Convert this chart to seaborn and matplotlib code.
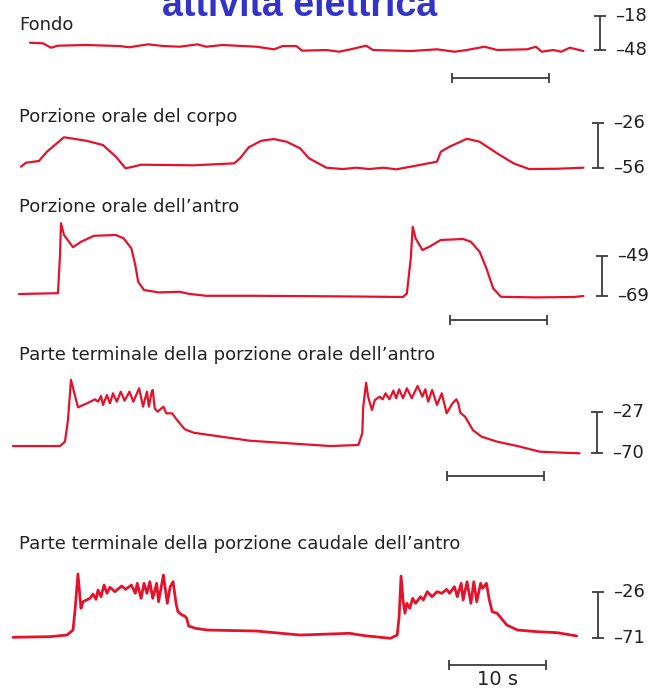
import matplotlib
matplotlib.use("Agg")
import matplotlib.pyplot as plt
import seaborn as sns

sns.set_theme(style="white")
plt.rcParams['font.family'] = ['DejaVu Sans']

# traces: time (s), potential (mV)
fondo_t = [1.55, 2.89, 3.71, 4.43, 7.32, 10.8, 11.75, 13.7, 15.3, 17.0, 18.8, 19.7, 21.4, 24.9, 26.7,
           27.6, 29.0, 29.6, 32.1, 33.4, 34.6, 36.2, 36.9, 40.8, 43.5, 45.3, 46.6, 48.4, 49.7, 52.8,
           53.7, 54.3, 55.5, 56.3, 57.2, 58.6]
fondo_mv = [-41.6, -42.1, -46.0, -44.2, -43.6, -44.5, -45.6, -43.0, -44.5, -45.1, -43.0, -45.1, -43.6, -45.1, -47.4,
            -44.5, -44.5, -48.6, -48.0, -49.5, -47.4, -44.2, -48.0, -48.9, -47.4, -49.5, -48.0, -45.1, -48.0, -47.4,
            -45.1, -49.5, -48.0, -49.5, -46.0, -48.9]

corpo_t = [0.62, 1.13, 2.47, 3.30, 5.05, 7.32, 9.07, 10.4, 11.4, 12.2, 13.0, 18.4, 22.6, 23.2, 24.1, 25.4,
           26.7, 28.0, 29.4, 30.3, 32.1, 33.8, 35.2, 36.5, 38.0, 39.3, 40.8, 43.5, 43.9, 44.8, 46.6, 47.9,
           49.7, 51.4, 53.0, 55.9, 58.6]
corpo_mv = [-55.1, -52.5, -51.3, -45.1, -35.5, -37.8, -40.7, -48.5, -56.2, -55.1, -53.8, -54.2, -52.9, -49.5, -42.2, -37.8,
            -36.7, -38.5, -42.9, -49.5, -55.8, -56.7, -55.8, -56.7, -55.8, -56.9, -55.1, -51.8, -45.1, -41.8, -36.5, -38.5,
            -46.2, -52.9, -56.7, -56.5, -55.8]

antro_t = [0.41, 4.43, 4.64, 4.74, 5.05, 5.98, 6.80, 8.14, 10.4, 11.2, 12.0, 12.4, 12.7, 13.3, 14.8, 17.0,
           17.9, 19.7, 24.9, 33.8, 40.0, 40.4, 40.8, 41.0, 41.3, 42.0, 42.7, 43.9, 46.2, 47.0, 47.9, 48.6,
           49.3, 50.1, 53.7, 57.6, 58.6]
antro_mv = [-68.0, -67.6, -48.5, -32.6, -38.5, -44.6, -41.9, -38.9, -38.5, -40.2, -45.2, -53.5, -61.9, -66.0, -67.2, -66.9,
            -67.9, -68.9, -68.9, -69.2, -69.5, -67.7, -50.2, -34.4, -40.2, -46.0, -44.4, -41.0, -40.5, -41.9, -46.9, -55.2,
            -65.2, -69.4, -69.7, -69.5, -69.0]

orale_t = [-0.21, 4.64, 5.15, 5.46, 5.77, 6.08, 6.49, 7.42, 8.25, 8.56, 8.87, 9.07, 9.48, 9.79, 10.1, 10.5,
           10.9, 11.3, 11.8, 12.2, 12.8, 13.2, 13.6, 13.8, 14.1, 14.2, 14.4, 14.7, 15.3, 15.6, 16.2, 16.7,
           17.5, 18.4, 20.8, 24.2, 32.5, 35.4, 35.8, 35.9, 36.2, 36.4, 36.8, 37.1, 37.6, 37.9, 38.2, 38.6,
           39.0, 39.3, 39.6, 40.0, 40.4, 40.9, 41.5, 42.0, 42.3, 42.6, 43.0, 43.5, 44.0, 44.5, 45.1, 45.5,
           45.7, 45.9, 46.4, 47.2, 48.1, 49.7, 51.8, 54.1, 56.5, 58.2]
orale_mv = [-62.7, -62.7, -58.1, -35.4, 6.6, -5.7, -22.1, -17.9, -13.7, -16.2, -10.2, -19.6, -9.2, -17.9, -7.4, -16.2,
            -5.7, -15.1, -5.7, -16.2, -2.1, -21.4, -5.7, -21.4, -5.7, -3.9, -23.1, -26.7, -21.4, -28.4, -28.4, -35.4,
            -45.1, -48.7, -52.2, -57.1, -62.7, -61.6, -49.3, -21.4, 3.7, -10.9, -24.9, -14.4, -10.9, -13.7, -7.4, -13.7,
            -4.6, -12.6, -3.2, -12.6, -2.1, -12.6, 0.3, -10.9, -3.2, -16.2, -3.9, -19.6, -7.4, -28.4, -17.9, -13.7,
            -17.9, -27.7, -31.9, -45.9, -52.9, -58.1, -62.7, -68.6, -69.7, -70.3]

caudale_t = [-0.21, 3.61, 5.36, 5.98, 6.19, 6.49, 6.80, 7.01, 7.73, 8.04, 8.35, 8.56, 8.87, 9.18, 9.48, 9.79,
             10.3, 11.0, 11.4, 12.0, 12.4, 12.6, 13.0, 13.3, 13.6, 13.9, 14.2, 14.6, 14.8, 15.3, 15.7, 16.0,
             16.3, 16.6, 16.8, 17.2, 17.5, 17.7, 17.9, 18.6, 19.8, 24.9, 29.4, 34.5, 36.0, 38.7, 39.4, 39.6,
             39.8, 40.0, 40.2, 40.4, 40.7, 41.0, 41.3, 41.8, 42.1, 42.5, 43.0, 43.5, 44.0, 44.5, 44.8, 45.3,
             45.6, 46.0, 46.2, 46.6, 47.0, 47.3, 47.6, 48.0, 48.2, 48.6, 48.9, 49.2, 49.7, 50.7, 51.8, 53.8,
             55.9, 57.9]
caudale_mv = [-70.3, -69.7, -68.1, -63.2, -43.6, -8.4, -42.0, -35.5, -32.2, -28.0, -33.2, -24.1, -30.6, -19.2, -27.3, -21.4,
              -25.7, -20.1, -23.4, -19.2, -27.3, -17.5, -32.2, -17.5, -27.3, -15.9, -32.2, -17.5, -35.5, -9.4, -37.1, -20.8,
              -15.9, -37.1, -45.3, -48.5, -49.5, -51.7, -59.3, -61.5, -63.2, -64.2, -68.1, -66.4, -68.7, -71.3, -68.1, -50.2,
              -10.4, -33.8, -46.8, -37.1, -42.0, -32.2, -37.1, -30.6, -33.8, -25.7, -30.6, -25.7, -27.3, -23.4, -27.3, -20.8,
              -30.6, -17.5, -33.8, -15.9, -37.1, -15.9, -35.5, -17.5, -22.4, -17.5, -33.8, -45.3, -46.8, -58.3, -63.2, -64.8,
              -65.8, -69.0]

labels = ["Fondo", "Porzione orale del corpo", "Porzione orale dell\u2019antro",
          "Parte terminale della porzione orale dell\u2019antro",
          "Parte terminale della porzione caudale dell\u2019antro"]
scale_top = [-18, -26, -49, -27, -26]
scale_bottom = [-48, -56, -69, -70, -71]
time_bar_s = 10

traces = [(fondo_t, fondo_mv), (corpo_t, corpo_mv), (antro_t, antro_mv),
          (orale_t, orale_mv), (caudale_t, caudale_mv)]

# layout in pixels of the 670x690 picture
W, H = 670, 690
x0, pps = 15, 9.7
bar_top_px = [16, 123, 256, 412, 592]
bar_bot_px = [50, 168, 296, 453, 638]
bar_x_px = [600, 598, 602, 597, 598]
label_base_px = [30, 122, 212, 360, 549]
tbar_y_px = {0: 78, 2: 320, 3: 476, 4: 665}
tbar_x_px = {0: 452, 2: 450, 3: 447, 4: 449}

red = "#e3132c"
grey = "#3c3c3c"

fig = plt.figure(figsize=(6.7, 6.9), dpi=100)

for i, (t, mv) in enumerate(traces):
    k = (bar_bot_px[i] - bar_top_px[i]) / (scale_top[i] - scale_bottom[i])  # px per mV
    ax = fig.add_axes([0, 0, 1, 1])
    ax.patch.set_alpha(0)
    ax.set_xlim(-x0 / pps, (W - x0) / pps)
    ax.set_ylim(scale_bottom[i] - (H - bar_bot_px[i]) / k, scale_bottom[i] + bar_bot_px[i] / k)
    ax.axis("off")

    lw = 2.0 if i == 4 else 1.6
    sns.lineplot(x=t, y=mv, ax=ax, color=red, lw=lw, sort=False, estimator=None)

    # voltage scale bar
    bx = (bar_x_px[i] - x0) / pps
    cap = 6 / pps
    ax.vlines(bx, scale_bottom[i], scale_top[i], color=grey, lw=1.3)
    ax.hlines([scale_bottom[i], scale_top[i]], bx - cap, bx + cap, color=grey, lw=1.3)
    lx = bx + 15 / pps
    for v in (scale_top[i], scale_bottom[i]):
        ax.text(lx, v, "\u2013" + str(abs(v)), va="center", ha="left", fontsize=13, color="#222222")

    # time scale bar
    if i in tbar_y_px:
        ty = scale_bottom[i] - (tbar_y_px[i] - bar_bot_px[i]) / k
        tx = (tbar_x_px[i] - x0) / pps
        h = 5 / k
        ax.hlines(ty, tx, tx + time_bar_s, color=grey, lw=1.3)
        ax.vlines([tx, tx + time_bar_s], ty - h, ty + h, color=grey, lw=1.3)
        if i == 4:
            ax.text(tx + time_bar_s / 2, ty - 20 / k, "10 s", ha="center", va="baseline",
                    fontsize=14, color="#222222")

    fig.text(19 / W, 1 - label_base_px[i] / H, labels[i], ha="left", va="baseline",
             fontsize=13, color="#222222")

fig.text(300 / W, 1 - 16 / H, "attivit\u00e0 elettrica", ha="center", va="baseline",
         fontsize=27, fontweight="bold", color="#3333cc", family="Liberation Sans")

fig.savefig("out.png", dpi=100, facecolor="white")
